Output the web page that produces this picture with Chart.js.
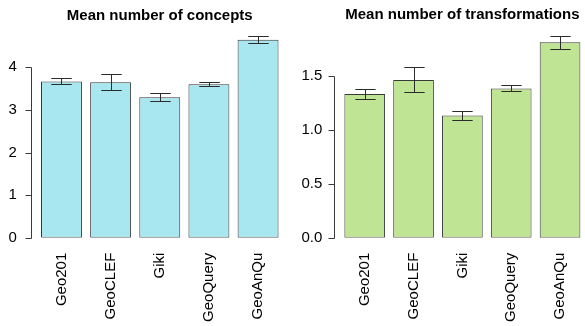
<!DOCTYPE html>
<html>
<head>
<meta charset="utf-8">
<script src="https://cdn.jsdelivr.net/npm/chart.js@4"></script>
<style>
  html, body { margin: 0; padding: 0; background: #fff; overflow: hidden; }
  #wrap { position: relative; width: 585px; height: 326px; overflow: hidden; }
  #left { position: absolute; left: 0; top: 0; }
  #right { position: absolute; left: 292px; top: 0; }
</style>
</head>
<body>
<div id="wrap">
  <canvas id="left" width="292" height="326"></canvas>
  <canvas id="right" width="302" height="326"></canvas>
</div>
<script>
// categories shared by both panels
var datasets = ['Geo201', 'GeoCLEF', 'Giki', 'GeoQuery', 'GeoAnQu'];

// left panel: mean number of concepts, with error bar ends
var conceptMeans = [3.67, 3.65, 3.30, 3.60, 4.65];
var conceptLow = [3.60, 3.46, 3.21, 3.56, 4.56];
var conceptHigh = [3.75, 3.84, 3.40, 3.65, 4.73];
var conceptTicks = [0, 1, 2, 3, 4];

// right panel: mean number of transformations
var transMeans = [1.33, 1.46, 1.13, 1.38, 1.81];
var transLow = [1.28, 1.35, 1.09, 1.36, 1.75];
var transHigh = [1.38, 1.58, 1.17, 1.41, 1.87];
var transTicks = [0, 0.5, 1.0, 1.5];

var fontFamily = '"Liberation Sans", Arial, sans-serif';

//draws the error bars from low/high arrays, through the y scale
var errorBarPlugin = {
    id: 'errorBars',
    afterDatasetsDraw: function(chart, args, opts) {
        var ctx = chart.ctx;
        var y = chart.scales.y;
        var meta = chart.getDatasetMeta(0);
        ctx.save();
        ctx.strokeStyle = '#2b2b2b';
        ctx.lineWidth = 1;
        meta.data.forEach(function(bar, i) {
            var top = Math.round(y.getPixelForValue(opts.high[i])) + 0.5;
            var bottom = Math.round(y.getPixelForValue(opts.low[i])) + 0.5;
            var cx = Math.round(bar.x) + 0.5;
            var half = bar.width / 4;
            ctx.beginPath();
            ctx.moveTo(cx, top);
            ctx.lineTo(cx, bottom);
            ctx.moveTo(cx - half, top);
            ctx.lineTo(cx + half, top);
            ctx.moveTo(cx - half, bottom);
            ctx.lineTo(cx + half, bottom);
            ctx.stroke();
        });
        ctx.restore();
    }
};

//R style y axis : line only between first and last tick, set apart from bars
var rAxisPlugin = {
    id: 'rAxis',
    afterDraw: function(chart) {
        var ctx = chart.ctx;
        var y = chart.scales.y;
        var ticks = y.ticks;
        var x0 = Math.round(chart.chartArea.left - 6) + 0.5;
        ctx.save();
        ctx.strokeStyle = '#3a3a3a';
        ctx.lineWidth = 1;
        ctx.beginPath();
        ctx.moveTo(x0, Math.round(y.getPixelForValue(ticks[0].value)) + 0.5);
        ctx.lineTo(x0, Math.round(y.getPixelForValue(ticks[ticks.length - 1].value)) + 0.5);
        ticks.forEach(function(t) {
            var py = Math.round(y.getPixelForValue(t.value)) + 0.5;
            ctx.moveTo(x0 - 6, py);
            ctx.lineTo(x0, py);
        });
        ctx.stroke();
        ctx.restore();
    }
};

function makePanel(id, title, means, low, high, ticks, decimals, yMax, color, yWidth, labelPad, titleGap, padRight) {
    var ctx = document.getElementById(id).getContext('2d');
    return new Chart(ctx, {
        type: 'bar',
        data: {
            labels: datasets,
            datasets: [{
                data: means,
                backgroundColor: color,
                borderColor: '#383838',
                borderWidth: 1,
                borderSkipped: false,
                categoryPercentage: 1,
                barPercentage: 0.833
            }]
        },
        options: {
            responsive: false,
            animation: false,
            layout: { padding: { left: 0, right: padRight, top: 0, bottom: 0 } },
            plugins: {
                legend: { display: false },
                tooltip: { enabled: false },
                title: {
                    display: true,
                    text: title,
                    fullSize: false,
                    color: '#000',
                    font: { family: fontFamily, size: 15, weight: 'bold' },
                    padding: { top: 4, bottom: titleGap + 1 }
                },
                errorBars: { low: low, high: high }
            },
            scales: {
                x: {
                    grid: { display: false, drawTicks: false },
                    border: { display: false },
                    ticks: {
                        color: '#000',
                        font: { family: fontFamily, size: 15 },
                        minRotation: 90,
                        maxRotation: 90,
                        autoSkip: false,
                        padding: 15
                    },
                    afterFit: function(scale) { scale.height = 88.3; }
                },
                y: {
                    min: 0,
                    max: yMax,
                    grid: { display: false, drawTicks: false },
                    border: { display: false },
                    ticks: {
                        color: '#000',
                        font: { family: fontFamily, size: 15 },
                        padding: labelPad,
                        callback: function(v) { return Number(v).toFixed(decimals); }
                    },
                    afterBuildTicks: function(scale) {
                        scale.ticks = ticks.map(function(v) { return { value: v }; });
                    },
                    afterFit: function(scale) { scale.width = yWidth; }
                }
            }
        },
        plugins: [errorBarPlugin, rAxisPlugin]
    });
}

makePanel('left', 'Mean number of concepts', conceptMeans, conceptLow, conceptHigh,
    conceptTicks, 0, 4.9, '#a9e7f0', 36.9, 20, 3.5, 3.6);
makePanel('right', 'Mean number of transformations', transMeans, transLow, transHigh,
    transTicks, 1, 1.95, '#bfe494', 48.3, 18, 2.5, 2.2);
</script>
</body>
</html>
